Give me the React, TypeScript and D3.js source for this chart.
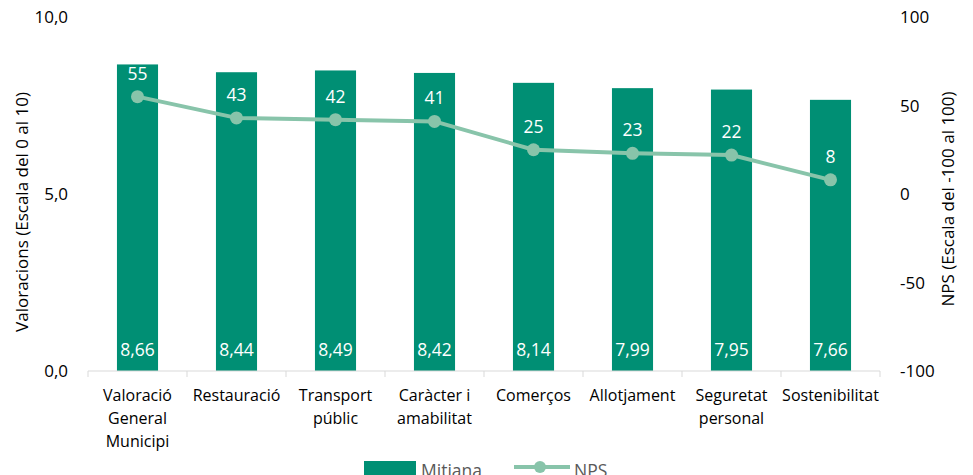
import React from "react";
import * as d3 from "d3";

const categories: string[][] = [
  ["Valoració", "General", "Municipi"],
  ["Restauració"],
  ["Transport", "públic"],
  ["Caràcter i", "amabilitat"],
  ["Comerços"],
  ["Allotjament"],
  ["Seguretat", "personal"],
  ["Sostenibilitat"],
];
const mitjana: number[] = [8.66, 8.44, 8.49, 8.42, 8.14, 7.99, 7.95, 7.66];
const nps: number[] = [55, 43, 42, 41, 25, 23, 22, 8];
const leftTicks: number[] = [0, 5, 10];
const rightTicks: number[] = [-100, -50, 0, 50, 100];

const W = 973;
const H = 475;
const plot = { left: 88, right: 880, top: 17, bottom: 371 };
const BAR = "#008F74";
const LINE = "#88C4AA";
const FONT = "'Open Sans', 'Liberation Sans', sans-serif";
const fmt = (v: number) => v.toFixed(1).replace(".", ",");
const fmt2 = (v: number) => v.toFixed(2).replace(".", ",");

export default function App() {
  const idx = categories.map((_, i) => String(i));
  const x = d3.scaleBand<string>().domain(idx).range([plot.left, plot.right]).paddingInner(0).paddingOuter(0);
  const y = d3.scaleLinear().domain([0, 10]).range([plot.bottom, plot.top]);
  const y2 = d3.scaleLinear().domain([-100, 100]).range([plot.bottom, plot.top]);
  const bw = x.bandwidth() * 0.415;
  const cx = (i: number) => (x(String(i)) as number) + x.bandwidth() / 2;
  const line = d3
    .line<number>()
    .x((_, i) => cx(i))
    .y((d) => y2(d));
  const boundaries = d3.range(categories.length + 1).map((i) => plot.left + i * x.bandwidth());

  return (
    <svg width={W} height={H} style={{ position: "absolute", left: 0, top: 0 }} fontFamily={FONT}>
      <rect width={W} height={H} fill="#fff" />
      {mitjana.map((v, i) => (
        <rect key={"b" + i} x={cx(i) - bw / 2} y={y(v)} width={bw} height={y(0) - y(v)} fill={BAR} />
      ))}
      <line x1={plot.left} x2={plot.right} y1={plot.bottom} y2={plot.bottom} stroke="#D9D9D9" strokeWidth={1} />
      {boundaries.map((bx, i) => (
        <line key={"t" + i} x1={bx} x2={bx} y1={plot.bottom} y2={plot.bottom + 6} stroke="#D9D9D9" strokeWidth={1} />
      ))}
      {mitjana.map((v, i) => (
        <text key={"bl" + i} x={cx(i)} y={356} textAnchor="middle" fill="#fff" fontSize={17.5}>
          {fmt2(v)}
        </text>
      ))}
      <path d={line(nps) || ""} fill="none" stroke={LINE} strokeWidth={4} strokeLinejoin="round" />
      {nps.map((v, i) => (
        <circle key={"c" + i} cx={cx(i)} cy={y2(v)} r={6.5} fill={LINE} />
      ))}
      {nps.map((v, i) => (
        <text key={"nl" + i} x={cx(i)} y={y2(v) - 17} textAnchor="middle" fill="#fff" fontSize={17.5}>
          {v}
        </text>
      ))}
      {leftTicks.map((t) => (
        <text key={"l" + t} x={68} y={y(t) + 6} textAnchor="end" fill="#000" fontSize={17}>
          {fmt(t)}
        </text>
      ))}
      <text
        transform={`translate(28,${(plot.top + plot.bottom) / 2 + 18}) rotate(-90)`}
        textAnchor="middle"
        fill="#000"
        fontSize={17}
      >
        Valoracions (Escala  del 0 al 10)
      </text>
      {rightTicks.map((t) => (
        <text key={"r" + t} x={900} y={y2(t) + 6} textAnchor="start" fill="#000" fontSize={17}>
          {t}
        </text>
      ))}
      <text
        transform={`translate(954,${(plot.top + plot.bottom) / 2 + 5}) rotate(-90)`}
        textAnchor="middle"
        fill="#000"
        fontSize={17}
      >
        NPS (Escala  del -100 al 100)
      </text>
      {categories.map((lines, i) => (
        <text key={"cat" + i} x={cx(i)} textAnchor="middle" fill="#000" fontSize={16}>
          {lines.map((l, j) => (
            <tspan key={j} x={cx(i)} y={401 + j * 23}>
              {l}
            </tspan>
          ))}
        </text>
      ))}
      <rect x={364} y={461} width={52} height={14} fill={BAR} />
      <text x={421} y={477} fill="#595959" fontSize={17.5}>
        Mitjana
      </text>
      <line x1={514} x2={570} y1={467} y2={467} stroke={LINE} strokeWidth={4} />
      <circle cx={540} cy={467} r={6} fill={LINE} />
      <text x={574} y={477} fill="#595959" fontSize={17.5}>
        NPS
      </text>
    </svg>
  );
}
